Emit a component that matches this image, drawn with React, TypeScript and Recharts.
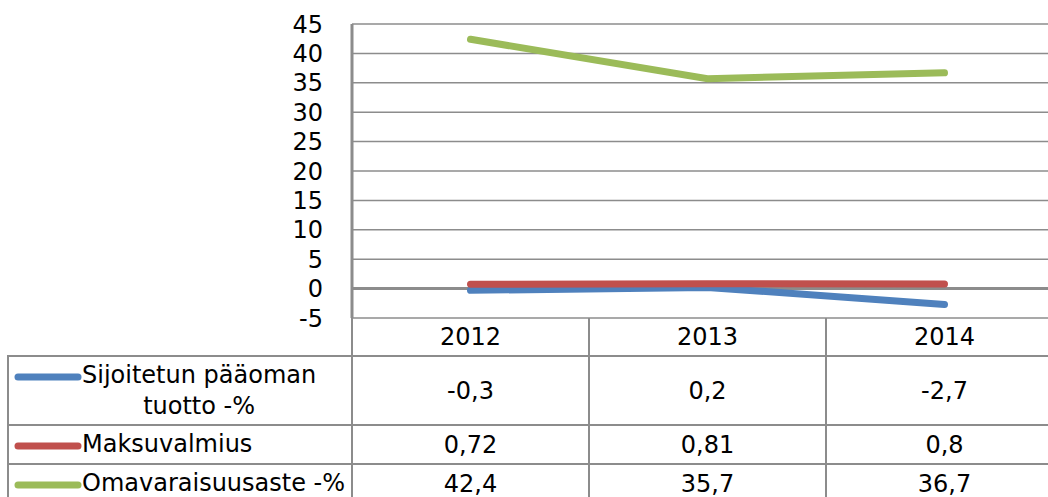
import React from 'react'
import { LineChart, Line, XAxis, YAxis, CartesianGrid, ReferenceLine } from 'recharts'

const years = ['2012', '2013', '2014']
const sijoitetun = [-0.3, 0.2, -2.7]
const maksuvalmius = [0.72, 0.81, 0.8]
const omavaraisuus = [42.4, 35.7, 36.7]
const yTicks = [-5, 0, 5, 10, 15, 20, 25, 30, 35, 40, 45]

const series = [
  { key: 'sijoitetun', label: ['Sijoitetun pääoman', 'tuotto -%'], values: sijoitetun, color: '#4F81BD' },
  { key: 'maksuvalmius', label: ['Maksuvalmius'], values: maksuvalmius, color: '#C0504D' },
  { key: 'omavaraisuus', label: ['Omavaraisuusaste -%'], values: omavaraisuus, color: '#9BBB59' },
]

const data = years.map((year, i) => ({
  year,
  sijoitetun: sijoitetun[i],
  maksuvalmius: maksuvalmius[i],
  omavaraisuus: omavaraisuus[i],
}))

const FONT = '"DejaVu Sans", Verdana, sans-serif'
const GRID = '#8c8c8c'
const fmt = (v: number) => String(v).replace('.', ',')

// table geometry (px, page coordinates)
const colX = [352, 589, 826, 1063]
const headTop = 318
const rowTops = [356, 425, 464, 503]

const line = (key: string, x: number, y: number, w: number, h: number) => (
  <div key={key} style={{ position: 'absolute', left: x, top: y, width: w, height: h, background: GRID }} />
)

export default function App() {
  const lines = [
    line('h0', 8, rowTops[0] - 1, 1055, 2),
    line('h1', 8, rowTops[1] - 1, 1055, 2),
    line('h2', 8, rowTops[2] - 1, 1055, 2),
    line('v0', 7, rowTops[0] - 1, 2, 200),
    ...colX.map((x, i) => line('v' + (i + 1), x - 1, headTop, 2, 200)),
  ]

  return (
    <div style={{ position: 'fixed', left: 0, top: 0, width: 1048, height: 497, overflow: 'hidden', background: '#fff', fontFamily: FONT }}>
      <div style={{ position: 'absolute', left: 0, top: 0 }}>
        <LineChart width={1100} height={350} data={data} margin={{ top: 24, right: 37, left: 0, bottom: 32 }}>
          <CartesianGrid vertical={false} stroke={GRID} strokeWidth={1.5} />
          <XAxis dataKey="year" hide padding={{ left: 118.5, right: 118.5 }} />
          <YAxis
            width={352}
            domain={[-5, 45]}
            ticks={yTicks}
            interval={0}
            tickLine={false}
            tickSize={6}
            tickMargin={23}
            axisLine={{ stroke: GRID, strokeWidth: 3 }}
            tick={{ fill: '#000', fontSize: 24, fontFamily: FONT }}
          />
          <ReferenceLine y={0} stroke={GRID} strokeWidth={3} />
          {series.map((s) => (
            <Line
              key={s.key}
              type="linear"
              dataKey={s.key}
              stroke={s.color}
              strokeWidth={7}
              strokeLinecap="round"
              dot={false}
              activeDot={false}
              isAnimationActive={false}
            />
          ))}
        </LineChart>
      </div>

      {lines}

      {years.map((y, i) => (
        <div key={y} style={{ position: 'absolute', left: colX[i], top: headTop, width: colX[i + 1] - colX[i], height: rowTops[0] - headTop, display: 'flex', alignItems: 'center', justifyContent: 'center', fontSize: 24 }}>
          {y}
        </div>
      ))}

      {series.map((s, r) => (
        <React.Fragment key={s.key}>
          <div style={{ position: 'absolute', left: 14, top: rowTops[r], width: 338, height: rowTops[r + 1] - rowTops[r], display: 'flex', alignItems: 'center', fontSize: 24 }}>
            <div style={{ display: 'flex', alignItems: 'flex-start' }}>
              <svg width={68} height={30} style={{ flex: 'none' }}>
                <line x1={4} y1={17} x2={64} y2={17} stroke={s.color} strokeWidth={7} strokeLinecap="round" />
              </svg>
              <div style={{ textAlign: 'center', lineHeight: '31px' }}>
                {s.label.map((t) => (
                  <div key={t} style={{ whiteSpace: 'nowrap' }}>{t}</div>
                ))}
              </div>
            </div>
          </div>
          {s.values.map((v, i) => (
            <div key={i} style={{ position: 'absolute', left: colX[i], top: rowTops[r], width: colX[i + 1] - colX[i], height: rowTops[r + 1] - rowTops[r], display: 'flex', alignItems: 'center', justifyContent: 'center', fontSize: 24 }}>
              {fmt(v)}
            </div>
          ))}
        </React.Fragment>
      ))}
    </div>
  )
}
